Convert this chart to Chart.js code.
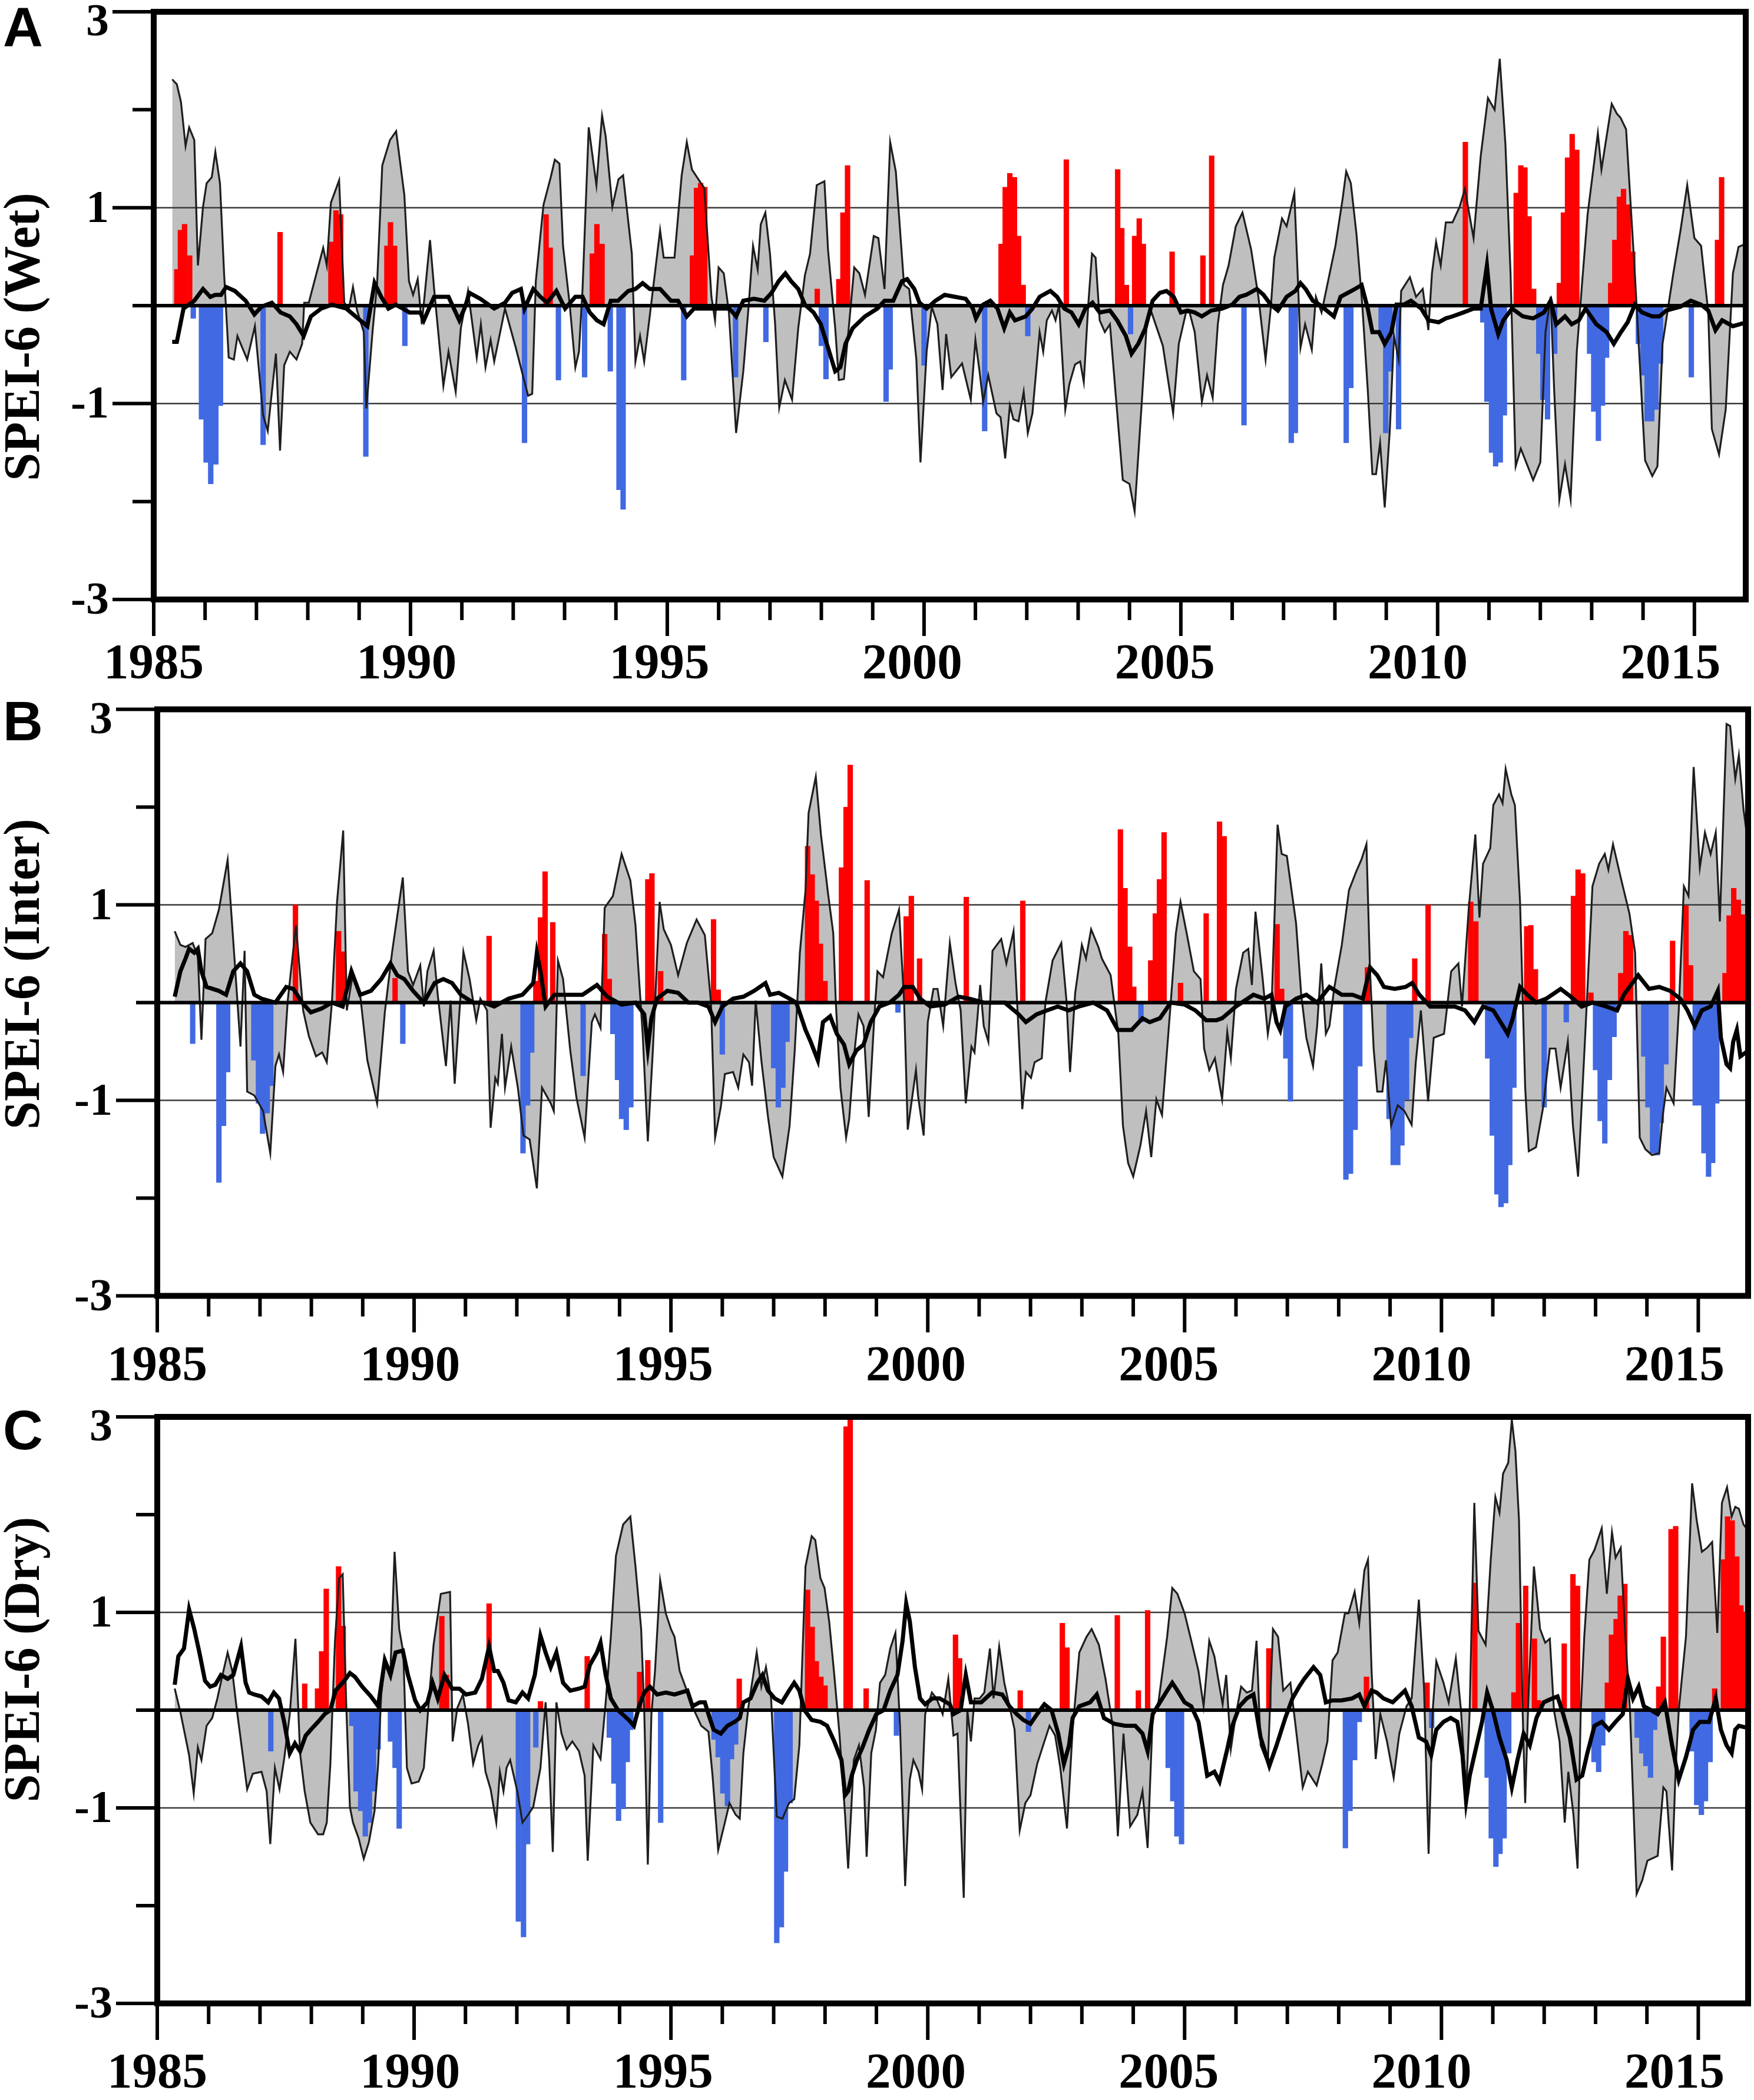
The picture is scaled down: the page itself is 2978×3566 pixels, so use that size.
<!DOCTYPE html>
<html><head><meta charset="utf-8">
<script src="https://cdn.jsdelivr.net/npm/chart.js@4.4.1/dist/chart.umd.min.js"></script>
<style>
html,body{margin:0;padding:0;background:#fff;width:2978px;height:3566px;overflow:hidden}
.panel{position:absolute;left:0;width:2978px}
.letter{position:absolute;font-family:"Liberation Sans",Arial,sans-serif;font-weight:bold;font-size:94px;line-height:1;color:#000}
</style></head><body>
<div class="panel" style="top:0px"><canvas id="cA" width="2978" height="1190"></canvas></div>
<div class="panel" style="top:1190px"><canvas id="cB" width="2978" height="1195"></canvas></div>
<div class="panel" style="top:2385px"><canvas id="cC" width="2978" height="1181"></canvas></div>
<div class="letter" style="left:5px;top:0px">A</div>
<div class="letter" style="left:5px;top:1178px">B</div>
<div class="letter" style="left:5px;top:2382px">C</div>
<script>
// ---------- axis / label data ----------
const xMin = 1985;
const yearTicks = [1985, 1990, 1995, 2000, 2005, 2010, 2015];
const yTickLabels = [3, 1, -1, -3];
const panelTitles = ['SPEI-6 (Wet)', 'SPEI-6 (Inter)', 'SPEI-6 (Dry)'];

// ---------- Panel A (Wet) ----------
const wetLine = [[1985.36,2.31],[1985.45,2.26],[1985.53,2.08],[1985.62,1.63],[1985.69,1.82],[1985.79,1.69],[1985.86,0.41],[1985.96,1.01],[1986.03,1.25],[1986.13,1.31],[1986.2,1.57],[1986.29,1.25],[1986.37,0.33],[1986.46,-0.53],[1986.56,-0.55],[1986.63,-0.31],[1986.82,-0.55],[1986.97,-0.21],[1987.13,-1.12],[1987.22,-1.28],[1987.38,-0.49],[1987.46,-1.48],[1987.54,-0.61],[1987.65,-0.47],[1987.78,-0.55],[1987.89,-0.39],[1987.93,0.03],[1988.02,0.03],[1988.3,0.59],[1988.37,0.41],[1988.45,1.05],[1988.61,1.28],[1988.71,0.03],[1988.8,-0.03],[1988.88,0.19],[1988.96,-0.05],[1989.09,-0.27],[1989.14,-1.05],[1989.26,-0.27],[1989.35,0.23],[1989.45,1.43],[1989.6,1.69],[1989.72,1.78],[1989.88,1.13],[1989.97,0.25],[1990.05,0.11],[1990.14,0.27],[1990.22,-0.19],[1990.38,0.67],[1990.46,0.17],[1990.64,-0.82],[1990.74,-0.47],[1990.88,-0.88],[1990.98,-0.23],[1991.12,0.15],[1991.29,-0.53],[1991.37,-0.19],[1991.46,-0.63],[1991.56,-0.35],[1991.63,-0.57],[1991.84,-0.03],[1992.05,-0.43],[1992.29,-0.92],[1992.37,-0.9],[1992.44,0.25],[1992.59,1.03],[1992.73,1.31],[1992.81,1.49],[1992.9,1.45],[1992.97,0.61],[1993.1,0.01],[1993.21,-0.63],[1993.28,-0.47],[1993.35,0.17],[1993.47,1.82],[1993.62,1.23],[1993.73,1.94],[1993.8,1.73],[1993.93,1.01],[1994.05,1.29],[1994.14,1.33],[1994.31,0.53],[1994.38,-0.57],[1994.47,-0.31],[1994.55,-0.57],[1994.66,-0.1],[1994.86,0.77],[1994.93,0.49],[1995.14,0.49],[1995.28,1.33],[1995.38,1.67],[1995.48,1.39],[1995.58,1.31],[1995.72,1.2],[1995.86,0.09],[1995.93,-0.15],[1996.0,0.39],[1996.1,0.33],[1996.2,-0.07],[1996.34,-1.3],[1996.48,-0.67],[1996.58,-0.03],[1996.67,0.61],[1996.76,0.37],[1996.82,0.83],[1996.91,0.95],[1997.0,0.53],[1997.1,-0.19],[1997.18,-1.04],[1997.29,-0.76],[1997.43,-0.96],[1997.55,-0.23],[1997.68,0.31],[1997.78,0.53],[1997.91,1.23],[1998.06,1.27],[1998.13,0.57],[1998.27,-0.23],[1998.34,-0.76],[1998.44,-0.75],[1998.54,-0.19],[1998.64,0.39],[1998.74,0.33],[1998.85,0.11],[1999.02,0.71],[1999.11,0.69],[1999.23,0.17],[1999.34,1.67],[1999.45,1.37],[1999.61,0.21],[1999.71,0.17],[1999.85,-0.55],[1999.93,-1.6],[2000.05,-0.47],[2000.15,-0.01],[2000.26,-0.19],[2000.36,-0.86],[2000.43,-0.29],[2000.53,-0.73],[2000.74,-0.59],[2000.91,-0.96],[2001.0,-0.35],[2001.08,-0.67],[2001.15,-0.98],[2001.25,-0.71],[2001.41,-1.1],[2001.49,-1.14],[2001.58,-1.56],[2001.67,-1.02],[2001.74,-1.16],[2001.84,-1.18],[2001.94,-0.88],[2002.02,-1.3],[2002.11,-1.1],[2002.25,-0.27],[2002.32,-0.47],[2002.39,-0.15],[2002.49,-0.05],[2002.56,-0.15],[2002.63,0.01],[2002.75,-1.06],[2002.83,-0.8],[2002.94,-0.6],[2003.04,-0.57],[2003.11,-0.78],[2003.2,0.03],[2003.27,0.53],[2003.34,0.49],[2003.42,-0.15],[2003.52,-0.27],[2003.62,-0.19],[2003.73,-0.9],[2003.87,-1.78],[2004.0,-1.82],[2004.1,-2.1],[2004.24,-0.98],[2004.34,-0.15],[2004.43,-0.07],[2004.65,-0.41],[2004.85,-1.1],[2004.96,-0.39],[2005.1,-0.07],[2005.17,-0.07],[2005.27,-0.27],[2005.41,-0.98],[2005.51,-0.71],[2005.62,-0.94],[2005.72,-0.19],[2005.82,0.21],[2005.93,0.41],[2006.07,0.81],[2006.2,0.95],[2006.37,0.57],[2006.51,0.09],[2006.65,-0.55],[2006.75,-0.03],[2006.82,0.49],[2006.97,0.89],[2007.06,0.81],[2007.21,1.15],[2007.28,0.25],[2007.33,-0.43],[2007.42,-0.19],[2007.55,-0.45],[2007.63,0.09],[2007.74,-0.07],[2008.01,0.61],[2008.15,1.09],[2008.22,1.37],[2008.31,1.25],[2008.42,0.73],[2008.53,0.03],[2008.64,-0.86],[2008.73,-1.72],[2008.8,-1.72],[2008.88,-1.4],[2008.97,-2.06],[2009.07,-1.26],[2009.15,-0.31],[2009.24,-0.55],[2009.29,0.15],[2009.46,0.29],[2009.58,0.09],[2009.71,0.17],[2009.82,-0.25],[2009.89,0.33],[2009.97,0.65],[2010.06,0.41],[2010.16,0.85],[2010.29,0.85],[2010.43,1.01],[2010.53,1.19],[2010.7,0.69],[2010.84,1.53],[2010.98,2.12],[2011.11,2.0],[2011.21,2.52],[2011.32,1.65],[2011.42,0.33],[2011.52,-1.64],[2011.62,-1.46],[2011.86,-1.78],[2012.0,-1.6],[2012.1,-0.27],[2012.2,0.09],[2012.27,-0.87],[2012.37,-1.98],[2012.48,-1.62],[2012.59,-1.98],[2012.71,-0.47],[2012.81,0.21],[2012.92,0.93],[2013.12,1.76],[2013.19,1.39],[2013.39,2.06],[2013.49,1.96],[2013.56,1.92],[2013.67,1.8],[2013.84,0.33],[2014.04,-1.58],[2014.18,-1.74],[2014.28,-1.64],[2014.38,-0.39],[2014.59,0.33],[2014.73,0.77],[2014.86,1.23],[2015.0,0.69],[2015.13,0.61],[2015.27,-0.07],[2015.34,-1.26],[2015.48,-1.52],[2015.61,-1.06],[2015.75,0.33],[2015.86,0.6],[2015.95,0.62]];
const wetThick = [[1985.36,-0.37],[1985.45,-0.37],[1985.58,-0.03],[1985.79,0.05],[1985.96,0.17],[1986.1,0.09],[1986.2,0.11],[1986.31,0.11],[1986.41,0.19],[1986.58,0.15],[1986.79,0.05],[1986.96,-0.09],[1987.1,-0.01],[1987.3,0.03],[1987.47,-0.07],[1987.65,-0.11],[1987.78,-0.19],[1987.92,-0.31],[1988.06,-0.11],[1988.26,-0.03],[1988.47,0.01],[1988.75,-0.03],[1989.02,-0.15],[1989.16,-0.21],[1989.3,0.23],[1989.43,0.09],[1989.57,-0.03],[1989.71,0.01],[1989.85,-0.03],[1989.98,-0.07],[1990.19,-0.07],[1990.26,-0.15],[1990.46,0.09],[1990.74,0.09],[1990.95,-0.15],[1991.05,-0.03],[1991.15,0.13],[1991.36,0.07],[1991.63,-0.03],[1991.84,0.03],[1991.98,0.13],[1992.15,0.17],[1992.22,-0.03],[1992.39,0.17],[1992.53,0.09],[1992.66,0.03],[1992.84,0.15],[1993.01,-0.03],[1993.21,0.09],[1993.35,0.09],[1993.49,-0.07],[1993.63,-0.15],[1993.76,-0.19],[1993.9,0.05],[1994.04,0.05],[1994.24,0.15],[1994.38,0.17],[1994.52,0.23],[1994.66,0.17],[1994.86,0.17],[1995.07,0.05],[1995.21,0.05],[1995.38,-0.11],[1995.52,-0.03],[1995.79,-0.03],[1996.0,-0.03],[1996.21,-0.03],[1996.34,-0.11],[1996.48,0.05],[1996.69,0.07],[1996.89,0.05],[1997.03,0.13],[1997.17,0.25],[1997.3,0.33],[1997.41,0.25],[1997.55,0.17],[1997.68,0.01],[1997.85,-0.07],[1997.99,-0.19],[1998.13,-0.43],[1998.27,-0.67],[1998.37,-0.63],[1998.47,-0.39],[1998.61,-0.23],[1998.85,-0.11],[1999.09,-0.03],[1999.23,0.05],[1999.4,0.05],[1999.57,0.25],[1999.67,0.27],[1999.81,0.17],[1999.91,0.03],[2000.05,-0.03],[2000.22,0.05],[2000.4,0.11],[2000.6,0.09],[2000.81,0.07],[2000.95,-0.03],[2001.01,-0.13],[2001.15,0.01],[2001.29,0.05],[2001.43,-0.03],[2001.56,-0.23],[2001.67,-0.07],[2001.77,-0.15],[2001.98,-0.11],[2002.11,-0.03],[2002.25,0.09],[2002.46,0.15],[2002.59,0.09],[2002.73,-0.03],[2002.87,-0.07],[2003.01,-0.19],[2003.14,-0.03],[2003.28,0.03],[2003.42,-0.07],[2003.62,-0.05],[2003.76,-0.15],[2003.93,-0.31],[2004.04,-0.49],[2004.17,-0.39],[2004.31,-0.23],[2004.45,0.05],[2004.59,0.13],[2004.72,0.15],[2004.86,0.09],[2005.0,-0.07],[2005.13,-0.05],[2005.27,-0.07],[2005.41,-0.11],[2005.59,-0.05],[2005.8,-0.03],[2006.0,0.01],[2006.14,0.09],[2006.27,0.11],[2006.48,0.17],[2006.61,0.11],[2006.75,0.01],[2006.89,-0.05],[2007.06,0.09],[2007.23,0.15],[2007.33,0.23],[2007.43,0.17],[2007.57,0.05],[2007.7,0.01],[2007.98,-0.11],[2008.11,0.09],[2008.25,0.13],[2008.39,0.17],[2008.52,0.21],[2008.64,-0.03],[2008.73,-0.27],[2008.86,-0.27],[2008.97,-0.39],[2009.1,-0.27],[2009.2,0.01],[2009.34,0.01],[2009.48,0.05],[2009.68,-0.03],[2009.82,-0.15],[2010.02,-0.17],[2010.16,-0.13],[2010.29,-0.11],[2010.5,-0.07],[2010.7,-0.03],[2010.84,-0.03],[2010.96,0.41],[2011.04,-0.03],[2011.18,-0.29],[2011.28,-0.15],[2011.45,-0.03],[2011.66,-0.11],[2011.86,-0.13],[2012.07,-0.07],[2012.2,0.05],[2012.31,-0.19],[2012.48,-0.11],[2012.61,-0.19],[2012.75,-0.15],[2012.88,-0.03],[2013.09,-0.19],[2013.29,-0.27],[2013.43,-0.39],[2013.57,-0.27],[2013.7,-0.17],[2013.84,0.01],[2013.98,-0.07],[2014.18,-0.11],[2014.32,-0.11],[2014.45,-0.05],[2014.73,-0.01],[2014.93,0.05],[2015.13,0.01],[2015.27,-0.05],[2015.41,-0.25],[2015.54,-0.15],[2015.75,-0.21],[2015.95,-0.18]];
const wetBars = [[1985.45,0.37],[1985.52,0.77],[1985.6,0.83],[1985.7,0.51],[1985.77,-0.13],[1985.93,-1.16],[1986.02,-1.6],[1986.11,-1.82],[1986.21,-1.62],[1986.3,-1.02],[1987.13,-1.42],[1987.46,0.75],[1988.45,0.65],[1988.55,0.97],[1988.64,0.93],[1989.13,-1.54],[1989.54,0.61],[1989.61,0.85],[1989.69,0.61],[1989.89,-0.41],[1992.22,-1.4],[1992.64,0.93],[1992.72,0.59],[1992.88,-0.76],[1993.39,-0.73],[1993.54,0.53],[1993.63,0.83],[1993.73,0.63],[1993.89,-0.67],[1994.06,-1.88],[1994.14,-2.08],[1995.32,-0.76],[1995.49,0.51],[1995.57,1.2],[1995.65,1.25],[1995.73,1.21],[1996.33,-0.73],[1996.92,-0.37],[1997.92,0.17],[1998.0,-0.41],[1998.09,-0.75],[1998.34,0.27],[1998.42,0.95],[1998.51,1.43],[1999.26,-0.98],[1999.34,-0.65],[2000.0,-0.61],[2001.18,-1.28],[2001.5,0.63],[2001.58,1.21],[2001.67,1.35],[2001.76,1.31],[2001.84,0.71],[2001.93,0.21],[2002.02,-0.31],[2002.77,1.49],[2003.77,1.39],[2003.85,0.79],[2003.94,0.21],[2004.02,-0.29],[2004.1,0.71],[2004.19,0.89],[2004.27,0.63],[2004.83,0.55],[2005.43,0.51],[2005.6,1.53],[2006.23,-1.22],[2007.15,-1.4],[2007.23,-1.3],[2008.22,-1.4],[2008.31,-0.84],[2008.9,-0.31],[2008.99,-1.3],[2009.07,-0.67],[2009.24,-1.26],[2010.54,1.67],[2010.88,-0.17],[2010.96,-0.98],[2011.05,-1.5],[2011.13,-1.64],[2011.22,-1.6],[2011.3,-1.12],[2011.53,1.15],[2011.62,1.43],[2011.7,1.41],[2011.78,0.91],[2011.87,0.17],[2011.97,-0.49],[2012.05,-0.96],[2012.14,-1.16],[2012.28,-0.49],[2012.37,0.23],[2012.45,0.95],[2012.53,1.51],[2012.62,1.75],[2012.71,1.59],[2012.96,-0.49],[2013.04,-1.08],[2013.13,-1.38],[2013.21,-1.02],[2013.29,-0.53],[2013.37,0.23],[2013.45,0.67],[2013.54,1.11],[2013.62,1.19],[2013.71,1.03],[2013.8,0.55],[2013.91,-0.39],[2014.0,-0.71],[2014.08,-1.18],[2014.17,-1.18],[2014.25,-1.06],[2014.34,-0.59],[2014.94,-0.73],[2015.45,0.67],[2015.53,1.31]];

// ---------- Panel B (Inter) ----------
const interLine = [[1985.34,0.73],[1985.45,0.59],[1985.55,0.57],[1985.69,0.61],[1985.79,0.47],[1985.86,-0.38],[1985.94,0.65],[1986.07,0.71],[1986.2,0.95],[1986.37,1.46],[1986.51,0.4],[1986.62,-0.45],[1986.7,0.53],[1986.75,-0.91],[1986.89,-0.95],[1987.06,-1.11],[1987.2,-1.54],[1987.3,-0.65],[1987.37,-0.53],[1987.45,-0.71],[1987.54,0.02],[1987.7,0.79],[1987.84,-0.08],[1987.95,-0.34],[1988.09,-0.55],[1988.21,-0.51],[1988.3,-0.61],[1988.4,0],[1988.5,1.03],[1988.62,1.76],[1988.69,-0.08],[1988.81,0.3],[1988.95,0.08],[1989.09,-0.59],[1989.28,-1.03],[1989.43,-0.1],[1989.57,0.51],[1989.78,1.28],[1989.88,0.32],[1989.98,0.18],[1990.12,0.38],[1990.19,-0.04],[1990.26,0.32],[1990.38,0.53],[1990.46,0.08],[1990.62,-0.65],[1990.71,0.02],[1990.79,-0.83],[1990.96,0.52],[1991.08,0.24],[1991.21,-0.18],[1991.29,0.04],[1991.42,-0.08],[1991.49,-1.28],[1991.58,-0.77],[1991.63,-0.83],[1991.71,-0.32],[1991.77,-0.87],[1991.89,-0.45],[1992.02,-0.87],[1992.13,-1.36],[1992.25,-1.4],[1992.39,-1.9],[1992.49,-0.87],[1992.66,-1.03],[1992.72,-1.11],[1992.8,0.43],[1992.9,0.24],[1993.04,-0.49],[1993.16,-0.97],[1993.32,-1.38],[1993.46,-0.2],[1993.52,-0.12],[1993.63,-0.26],[1993.71,0.97],[1993.87,1.09],[1994.04,1.52],[1994.21,1.25],[1994.31,0.79],[1994.45,-0.32],[1994.55,-1.42],[1994.65,-0.47],[1994.78,1.03],[1994.86,0.75],[1995.0,0.59],[1995.14,0.28],[1995.31,0.61],[1995.5,0.85],[1995.66,0.69],[1995.78,0],[1995.86,-1.38],[1995.97,-1.07],[1996.05,-0.73],[1996.21,-0.71],[1996.31,-0.87],[1996.41,-0.53],[1996.52,-0.61],[1996.58,-0.85],[1996.65,0.02],[1996.76,-0.59],[1996.89,-1.17],[1997.0,-1.58],[1997.17,-1.78],[1997.31,-1.26],[1997.41,-0.49],[1997.51,0.51],[1997.62,1.15],[1997.68,1.94],[1997.82,2.31],[1997.92,1.72],[1998.06,1.11],[1998.16,0.71],[1998.21,0],[1998.3,-0.87],[1998.41,-1.38],[1998.47,-1.19],[1998.56,-0.57],[1998.65,-0.12],[1998.75,-0.24],[1998.85,-1.17],[1998.96,-0.14],[1999.02,0.32],[1999.13,0.26],[1999.23,0.53],[1999.3,0.71],[1999.44,0.95],[1999.54,0],[1999.61,-1.3],[1999.77,-0.69],[1999.81,-0.95],[1999.92,-1.36],[2000.0,-0.2],[2000.11,0.14],[2000.19,0.14],[2000.3,-0.24],[2000.43,0.61],[2000.54,0.2],[2000.64,-0.08],[2000.74,-1.03],[2000.85,-0.45],[2000.91,-0.51],[2001.02,0.18],[2001.09,-0.24],[2001.18,-0.4],[2001.26,0.53],[2001.43,0.65],[2001.53,0.4],[2001.67,0.73],[2001.74,0],[2001.84,-1.09],[2001.91,-0.71],[2002.01,-0.77],[2002.08,-0.61],[2002.22,-0.57],[2002.29,0],[2002.43,0.43],[2002.6,0.61],[2002.7,0.02],[2002.77,-0.71],[2002.87,0.1],[2003.0,0.59],[2003.08,0.45],[2003.18,0.75],[2003.32,0.57],[2003.39,0.45],[2003.56,0.28],[2003.63,0],[2003.71,-0.32],[2003.8,-1.26],[2003.9,-1.64],[2004.0,-1.78],[2004.14,-1.46],[2004.25,-1.11],[2004.35,-1.58],[2004.45,-0.99],[2004.56,-1.15],[2004.73,0],[2004.83,0.71],[2004.92,1.03],[2005.04,0.71],[2005.18,0.32],[2005.31,0.24],[2005.38,-0.47],[2005.48,-0.69],[2005.59,-0.57],[2005.73,-0.99],[2005.83,-0.3],[2005.9,-0.57],[2006.0,0.14],[2006.14,0.51],[2006.24,0.55],[2006.31,0.18],[2006.38,0.93],[2006.52,0.24],[2006.62,-0.32],[2006.69,-0.08],[2006.81,1.82],[2006.89,1.52],[2006.99,1.5],[2007.17,0.81],[2007.27,0.08],[2007.37,-0.36],[2007.5,-0.65],[2007.58,-0.24],[2007.66,0.4],[2007.75,-0.32],[2007.82,-0.24],[2007.91,0.14],[2008.06,0.59],[2008.2,1.15],[2008.34,1.34],[2008.44,1.46],[2008.54,1.62],[2008.61,0.32],[2008.68,-0.47],[2008.75,-0.91],[2008.85,-0.91],[2008.92,-0.59],[2009.02,-1.26],[2009.15,-1.05],[2009.28,-1.11],[2009.42,-1.25],[2009.5,-0.61],[2009.6,-0.08],[2009.74,-1.01],[2009.85,-0.36],[2010.05,-0.32],[2010.19,0.32],[2010.33,0.4],[2010.4,-0.04],[2010.53,0.95],[2010.66,1.72],[2010.74,0.87],[2010.81,1.42],[2010.95,1.58],[2011.01,2.02],[2011.12,2.13],[2011.19,2.04],[2011.25,2.39],[2011.36,2.13],[2011.43,2.02],[2011.53,1.03],[2011.63,-0.87],[2011.7,-1.52],[2011.84,-1.48],[2011.98,-1.07],[2012.11,-0.47],[2012.22,-0.47],[2012.32,-0.87],[2012.46,-0.4],[2012.56,-1.26],[2012.66,-1.78],[2012.8,-0.32],[2012.94,1.19],[2013.07,1.42],[2013.18,1.52],[2013.25,1.36],[2013.34,1.62],[2013.49,1.28],[2013.66,0.91],[2013.77,0.51],[2013.86,-1.38],[2013.97,-1.5],[2014.1,-1.56],[2014.24,-1.54],[2014.31,-1.15],[2014.38,-0.87],[2014.52,-1.03],[2014.62,-0.08],[2014.72,1.19],[2014.81,1.09],[2014.91,2.41],[2015.03,1.38],[2015.13,1.74],[2015.24,1.52],[2015.34,1.74],[2015.42,0.83],[2015.55,2.85],[2015.62,2.83],[2015.72,2.29],[2015.79,2.53],[2015.88,1.98],[2015.95,1.7]];
const interThick = [[1985.34,0.06],[1985.45,0.32],[1985.55,0.45],[1985.62,0.55],[1985.72,0.51],[1985.79,0.55],[1985.86,0.32],[1985.96,0.16],[1986.2,0.12],[1986.34,0.08],[1986.48,0.32],[1986.62,0.4],[1986.75,0.32],[1986.89,0.08],[1987.03,0.04],[1987.3,0],[1987.51,0.16],[1987.65,0.14],[1987.82,0],[1987.99,-0.1],[1988.2,-0.06],[1988.4,0],[1988.61,-0.04],[1988.78,0.32],[1988.95,0.08],[1989.16,0.12],[1989.36,0.24],[1989.54,0.4],[1989.67,0.28],[1989.81,0.24],[1989.98,0.12],[1990.19,0],[1990.4,0.2],[1990.57,0.24],[1990.74,0.2],[1990.91,0.08],[1991.15,0],[1991.36,0],[1991.56,-0.04],[1991.84,0.04],[1992.11,0.08],[1992.32,0.2],[1992.39,0.51],[1992.46,0.32],[1992.56,-0.04],[1992.73,0.08],[1992.94,0.08],[1993.28,0.08],[1993.56,0.18],[1993.76,0.06],[1994.04,-0.02],[1994.31,0],[1994.48,-0.12],[1994.55,-0.47],[1994.62,-0.16],[1994.73,0.04],[1994.93,0.12],[1995.14,0.1],[1995.34,0],[1995.52,0],[1995.73,-0.04],[1995.86,-0.2],[1996.0,-0.04],[1996.21,0.04],[1996.41,0.06],[1996.62,0.12],[1996.84,0.2],[1996.93,0.08],[1997.1,0.1],[1997.31,0.04],[1997.44,0],[1997.62,-0.28],[1997.72,-0.4],[1997.86,-0.59],[1997.96,-0.2],[1998.1,-0.14],[1998.23,-0.32],[1998.37,-0.43],[1998.47,-0.63],[1998.61,-0.49],[1998.75,-0.43],[1998.89,-0.2],[1999.06,-0.04],[1999.26,0],[1999.44,0.08],[1999.54,0.16],[1999.71,0.16],[1999.85,0.04],[2000.05,-0.04],[2000.33,-0.02],[2000.6,0.06],[2000.81,0.04],[2001.09,0],[2001.5,0],[2001.77,-0.12],[2001.91,-0.2],[2002.12,-0.12],[2002.32,-0.08],[2002.53,-0.04],[2002.74,-0.08],[2002.94,-0.04],[2003.22,0],[2003.49,-0.08],[2003.7,-0.28],[2003.97,-0.28],[2004.18,-0.16],[2004.32,-0.2],[2004.52,-0.16],[2004.73,0],[2005.0,-0.02],[2005.21,-0.08],[2005.42,-0.18],[2005.62,-0.18],[2005.73,-0.16],[2006.0,-0.04],[2006.34,0.08],[2006.55,0.04],[2006.69,0.08],[2006.79,-0.2],[2006.86,-0.28],[2006.96,-0.04],[2007.17,0.04],[2007.37,0.08],[2007.58,0],[2007.82,0.16],[2008.06,0.08],[2008.27,0.08],[2008.47,0.04],[2008.61,0.36],[2008.75,0.28],[2008.88,0.16],[2009.09,0.14],[2009.3,0.16],[2009.43,0.2],[2009.57,0.08],[2009.78,-0.04],[2009.98,-0.04],[2010.26,-0.04],[2010.46,-0.08],[2010.64,-0.2],[2010.81,-0.04],[2011.01,-0.08],[2011.15,-0.2],[2011.29,-0.32],[2011.39,-0.16],[2011.53,0.16],[2011.67,0.08],[2011.84,0],[2012.04,0.04],[2012.32,0.14],[2012.52,0.06],[2012.73,-0.04],[2012.94,0],[2013.21,-0.04],[2013.42,-0.08],[2013.55,0.08],[2013.83,0.28],[2014.04,0.14],[2014.24,0.16],[2014.45,0.12],[2014.65,0.04],[2014.79,-0.08],[2014.93,-0.24],[2015.07,-0.08],[2015.24,-0.04],[2015.38,0.12],[2015.44,-0.36],[2015.55,-0.63],[2015.62,-0.67],[2015.68,-0.4],[2015.75,-0.28],[2015.82,-0.55],[2015.95,-0.5]];
const interBars = [[1985.69,-0.42],[1986.2,-1.84],[1986.29,-1.26],[1986.37,-0.71],[1986.88,-0.59],[1986.97,-1.03],[1987.05,-1.34],[1987.14,-1.13],[1987.21,-0.85],[1987.69,1.0],[1988.53,0.73],[1988.62,0.52],[1989.63,0.25],[1989.78,-0.42],[1991.46,0.68],[1992.12,-1.54],[1992.21,-1.05],[1992.29,-0.51],[1992.37,0.22],[1992.46,0.87],[1992.55,1.34],[1992.7,0.82],[1993.29,-0.75],[1993.71,0.7],[1993.8,0.24],[1993.87,-0.32],[1993.96,-0.79],[1994.04,-1.19],[1994.13,-1.3],[1994.22,-1.07],[1994.55,1.26],[1994.63,1.32],[1994.8,0.32],[1995.83,0.85],[1995.92,0.13],[1996.0,-0.53],[1997.0,-0.67],[1997.09,-1.07],[1997.18,-0.87],[1997.26,-0.4],[1997.66,1.6],[1997.75,1.31],[1997.83,1.04],[1997.91,0.6],[1998.0,0.22],[1998.32,1.38],[1998.41,2.0],[1998.49,2.43],[1998.82,1.25],[1999.42,-0.1],[1999.58,0.88],[1999.68,1.09],[1999.84,0.45],[2000.75,1.08],[2001.85,1.04],[2003.75,1.77],[2003.84,1.17],[2003.93,0.57],[2004.01,0.16],[2004.15,-0.2],[2004.34,0.43],[2004.43,0.91],[2004.51,1.26],[2004.6,1.74],[2004.92,0.2],[2005.42,0.91],[2005.68,1.85],[2005.77,1.7],[2006.8,0.8],[2006.89,0.14],[2006.97,-0.57],[2007.06,-1.01],[2008.14,-1.81],[2008.23,-1.75],[2008.32,-1.3],[2008.41,-0.65],[2008.56,0.36],[2008.98,-1.19],[2009.06,-1.66],[2009.15,-1.66],[2009.23,-1.46],[2009.32,-0.99],[2009.4,-0.36],[2009.48,0.45],[2009.74,1.0],[2010.57,1.03],[2010.67,0.83],[2010.9,-0.57],[2010.99,-1.36],[2011.08,-1.96],[2011.16,-2.09],[2011.25,-2.05],[2011.33,-1.66],[2011.41,-0.87],[2011.66,0.78],[2011.74,0.79],[2011.83,0.34],[2012.0,-1.07],[2012.43,-0.2],[2012.57,1.09],[2012.66,1.36],[2012.75,1.32],[2012.91,0.1],[2013.0,-0.69],[2013.09,-1.21],[2013.18,-1.44],[2013.27,-0.79],[2013.36,-0.35],[2013.49,0.3],[2013.59,0.73],[2013.68,0.69],[2013.94,-0.55],[2014.02,-1.07],[2014.11,-1.54],[2014.2,-1.56],[2014.28,-1.23],[2014.37,-0.63],[2014.5,0.63],[2014.76,0.99],[2014.85,0.38],[2014.94,-1.05],[2015.02,-1.05],[2015.11,-1.54],[2015.2,-1.78],[2015.28,-1.64],[2015.36,-1.03],[2015.52,0.3],[2015.6,0.89],[2015.69,1.17],[2015.78,1.05],[2015.87,0.9]];

// ---------- Panel C (Dry) ----------
const dryLine = [[1985.34,0.22],[1985.45,-0.02],[1985.52,-0.2],[1985.62,-0.46],[1985.71,-0.85],[1985.79,-0.38],[1985.86,-0.51],[1985.96,-0.16],[1986.07,-0.08],[1986.17,0.12],[1986.27,0.36],[1986.37,0.59],[1986.46,0.4],[1986.55,0],[1986.62,-0.28],[1986.75,-0.81],[1986.86,-0.65],[1987.03,-0.63],[1987.13,-0.83],[1987.2,-1.37],[1987.29,-0.59],[1987.38,-0.81],[1987.47,-0.5],[1987.58,-0.04],[1987.69,0.73],[1987.78,-0.44],[1987.87,-0.83],[1987.98,-1.15],[1988.13,-1.27],[1988.23,-1.27],[1988.3,-1.15],[1988.37,-0.55],[1988.46,0.71],[1988.54,1.35],[1988.61,1.39],[1988.68,0.04],[1988.75,-0.99],[1988.81,-1.15],[1988.92,-1.31],[1989.02,-1.52],[1989.12,-1.35],[1989.23,-1.03],[1989.3,-0.55],[1989.36,0.16],[1989.43,0.53],[1989.54,0.4],[1989.62,1.62],[1989.71,0.83],[1989.79,0.59],[1989.86,-0.59],[1989.95,-0.75],[1990.09,-0.73],[1990.19,-0.59],[1990.29,0.12],[1990.38,0.67],[1990.52,1.19],[1990.7,1.21],[1990.75,-0.32],[1990.84,0.02],[1990.95,0.16],[1991.05,-0.14],[1991.15,-0.55],[1991.25,-0.36],[1991.32,-0.28],[1991.39,-0.63],[1991.49,-0.81],[1991.6,-1.15],[1991.67,-0.63],[1991.74,-0.83],[1991.8,-0.59],[1991.87,-0.51],[1992.01,-0.83],[1992.11,-1.15],[1992.22,-1.07],[1992.32,-0.99],[1992.46,-0.59],[1992.56,0.08],[1992.63,-0.51],[1992.7,-1.45],[1992.77,0.08],[1992.87,-0.24],[1992.97,-0.4],[1993.08,-0.32],[1993.21,-0.42],[1993.32,-0.67],[1993.38,-1.54],[1993.49,-0.36],[1993.63,-0.5],[1993.73,0.08],[1993.83,0.75],[1993.93,1.58],[1994.07,1.9],[1994.21,1.98],[1994.31,1.47],[1994.42,0.83],[1994.48,0],[1994.55,-1.58],[1994.62,-0.04],[1994.69,0.4],[1994.79,1.33],[1994.9,0.99],[1995.0,0.83],[1995.07,0.75],[1995.17,0.4],[1995.31,0.2],[1995.45,0],[1995.59,-0.16],[1995.73,-0.22],[1995.81,-0.67],[1995.92,-1.43],[1996.05,-1.15],[1996.14,-0.95],[1996.26,-1.07],[1996.34,-1.11],[1996.41,-0.44],[1996.51,0.04],[1996.67,0.59],[1996.76,0.24],[1996.85,0.44],[1996.95,0.12],[1997.06,-1.09],[1997.17,-1.11],[1997.3,-0.95],[1997.4,-0.91],[1997.5,-0.36],[1997.62,1.47],[1997.74,1.78],[1997.81,1.74],[1997.91,1.35],[1997.99,1.25],[1998.08,0.91],[1998.18,0.36],[1998.28,-0.24],[1998.39,-1.07],[1998.45,-1.62],[1998.56,-0.51],[1998.66,-0.36],[1998.76,-0.79],[1998.81,-1.5],[1998.9,-0.44],[1998.99,-0.2],[1999.07,0.28],[1999.17,0.36],[1999.27,0.63],[1999.37,0.79],[1999.46,-0.16],[1999.56,-1.8],[1999.65,-0.71],[1999.72,-0.51],[1999.82,-0.63],[1999.89,-0.81],[1999.95,-0.04],[2000.08,0.18],[2000.17,0.12],[2000.29,-0.04],[2000.4,0.32],[2000.5,-0.26],[2000.58,-0.24],[2000.7,-1.92],[2000.77,0],[2000.84,-0.32],[2000.91,0.12],[2001.01,0.12],[2001.1,0.18],[2001.21,0.63],[2001.28,0.12],[2001.39,0.65],[2001.49,0.28],[2001.59,0.04],[2001.69,-0.2],[2001.79,-1.23],[2001.9,-0.95],[2002.0,-0.87],[2002.13,-0.55],[2002.27,-0.32],[2002.37,-0.16],[2002.48,-0.26],[2002.58,-0.59],[2002.71,-1.21],[2002.82,-0.2],[2002.95,0.59],[2003.09,0.75],[2003.19,0.83],[2003.33,0.67],[2003.46,0.32],[2003.6,-0.16],[2003.7,-1.29],[2003.81,-0.24],[2003.94,-1.19],[2004.08,-1.07],[2004.18,-0.83],[2004.28,-1.41],[2004.38,-0.04],[2004.49,0.08],[2004.66,0.75],[2004.76,1.25],[2004.86,1.19],[2005.0,0.99],[2005.13,0.71],[2005.27,0.4],[2005.37,0.04],[2005.48,0.71],[2005.58,0.55],[2005.68,0.24],[2005.74,0.06],[2005.81,0.36],[2005.9,-0.4],[2006.0,-0.04],[2006.1,0.24],[2006.21,0.18],[2006.31,0.2],[2006.4,0.71],[2006.48,-0.36],[2006.62,-0.55],[2006.72,0.83],[2006.82,0.75],[2006.92,0.2],[2007.06,0.28],[2007.16,-0.16],[2007.3,-0.79],[2007.4,-0.63],[2007.57,-0.77],[2007.68,-0.55],[2007.78,-0.32],[2007.88,0.51],[2007.98,0.59],[2008.12,0.99],[2008.19,0.99],[2008.31,1.21],[2008.4,0.89],[2008.5,1.43],[2008.57,1.54],[2008.64,0.4],[2008.72,-0.5],[2008.81,-0.04],[2008.94,-0.32],[2009.07,-0.69],[2009.18,-0.24],[2009.32,0.04],[2009.42,0.12],[2009.56,1.13],[2009.66,0.24],[2009.75,-1.47],[2009.83,0],[2009.9,0.5],[2010.04,0.28],[2010.14,0.08],[2010.28,0.53],[2010.38,0],[2010.48,-0.87],[2010.55,0],[2010.64,2.12],[2010.72,0.81],[2010.86,0.67],[2010.96,1.54],[2011.05,2.18],[2011.13,2.02],[2011.2,2.42],[2011.3,2.53],[2011.37,2.97],[2011.44,2.65],[2011.51,1.94],[2011.58,0],[2011.63,-0.95],[2011.69,0.08],[2011.8,1.47],[2011.92,0.83],[2012.02,0.69],[2012.11,0.73],[2012.19,0],[2012.3,-0.32],[2012.4,-1.15],[2012.47,-0.63],[2012.57,-1.07],[2012.65,-1.62],[2012.71,-0.04],[2012.78,0.75],[2012.88,1.54],[2012.98,1.64],[2013.12,1.86],[2013.22,1.19],[2013.32,1.82],[2013.39,1.56],[2013.49,1.66],[2013.58,0.75],[2013.67,0],[2013.8,-1.88],[2013.91,-1.74],[2014.01,-1.54],[2014.21,-1.49],[2014.32,-0.79],[2014.38,-0.83],[2014.49,-1.64],[2014.56,-0.59],[2014.62,0],[2014.76,0.75],[2014.88,2.32],[2014.97,1.94],[2015.07,1.62],[2015.17,1.66],[2015.27,1.72],[2015.37,0.79],[2015.46,2.12],[2015.56,2.28],[2015.65,1.98],[2015.72,2.08],[2015.79,2.06],[2015.88,1.9],[2015.95,1.85]];
const dryThick = [[1985.34,0.26],[1985.41,0.55],[1985.52,0.63],[1985.62,1.03],[1985.72,0.83],[1985.82,0.59],[1985.93,0.3],[1986.03,0.24],[1986.13,0.26],[1986.24,0.36],[1986.37,0.32],[1986.48,0.36],[1986.63,0.65],[1986.72,0.28],[1986.79,0.18],[1986.89,0.16],[1987.03,0.14],[1987.16,0.08],[1987.27,0.18],[1987.37,0.12],[1987.47,-0.12],[1987.58,-0.44],[1987.68,-0.34],[1987.78,-0.42],[1987.89,-0.26],[1987.99,-0.2],[1988.13,-0.12],[1988.26,-0.04],[1988.37,0],[1988.47,0.2],[1988.64,0.3],[1988.75,0.38],[1988.85,0.34],[1988.99,0.24],[1989.16,0.14],[1989.3,0.04],[1989.43,0.51],[1989.54,0.36],[1989.64,0.59],[1989.78,0.61],[1989.88,0.36],[1990.02,0.1],[1990.12,0],[1990.26,0.08],[1990.36,0.28],[1990.46,0.12],[1990.59,0.36],[1990.74,0.22],[1990.88,0.22],[1991.01,0.16],[1991.19,0.18],[1991.32,0.32],[1991.46,0.65],[1991.56,0.4],[1991.63,0.4],[1991.74,0.28],[1991.84,0.1],[1991.98,0.08],[1992.11,0.18],[1992.22,0.12],[1992.35,0.36],[1992.46,0.76],[1992.56,0.59],[1992.66,0.44],[1992.77,0.59],[1992.9,0.28],[1993.04,0.2],[1993.21,0.22],[1993.32,0.24],[1993.42,0.46],[1993.56,0.59],[1993.63,0.69],[1993.73,0.36],[1993.83,0.12],[1993.97,0],[1994.18,-0.1],[1994.28,-0.16],[1994.38,0.04],[1994.48,0.18],[1994.59,0.24],[1994.73,0.16],[1994.9,0.18],[1995.07,0.16],[1995.32,0.2],[1995.42,0.04],[1995.56,0.08],[1995.66,0.08],[1995.73,-0.04],[1995.83,-0.2],[1995.97,-0.24],[1996.1,-0.16],[1996.24,-0.12],[1996.34,-0.08],[1996.41,0.08],[1996.55,0.12],[1996.68,0.28],[1996.78,0.36],[1996.89,0.2],[1997.02,0.12],[1997.16,0.08],[1997.3,0.2],[1997.4,0.28],[1997.5,0.2],[1997.6,0],[1997.74,-0.1],[1997.91,-0.12],[1998.04,-0.16],[1998.18,-0.32],[1998.32,-0.51],[1998.39,-0.87],[1998.45,-0.83],[1998.52,-0.67],[1998.62,-0.51],[1998.73,-0.38],[1998.86,-0.2],[1999.0,-0.04],[1999.14,0],[1999.27,0.2],[1999.41,0.36],[1999.51,0.71],[1999.58,1.09],[1999.65,0.91],[1999.75,0.44],[1999.85,0.12],[1999.95,0.06],[2000.09,0.12],[2000.23,0.12],[2000.43,0.06],[2000.5,-0.04],[2000.64,0],[2000.74,0.36],[2000.84,0.08],[2001.04,0.08],[2001.25,0.18],[2001.45,0.16],[2001.59,0.04],[2001.73,-0.04],[2001.86,-0.1],[2002.0,-0.14],[2002.13,-0.04],[2002.27,0.06],[2002.41,0],[2002.54,-0.24],[2002.65,-0.55],[2002.75,-0.36],[2002.82,-0.08],[2002.95,0.04],[2003.16,0.08],[2003.29,0.16],[2003.43,-0.08],[2003.63,-0.14],[2003.84,-0.16],[2004.04,-0.16],[2004.18,-0.24],[2004.28,-0.42],[2004.38,-0.04],[2004.52,0.08],[2004.66,0.2],[2004.76,0.28],[2004.86,0.2],[2005.0,0.08],[2005.13,0.04],[2005.27,-0.12],[2005.37,-0.44],[2005.44,-0.67],[2005.58,-0.63],[2005.68,-0.73],[2005.83,-0.4],[2005.93,-0.16],[2006.07,0.04],[2006.21,0.12],[2006.34,0.16],[2006.48,-0.28],[2006.65,-0.57],[2006.79,-0.36],[2006.96,-0.08],[2007.1,0.12],[2007.23,0.24],[2007.33,0.32],[2007.51,0.44],[2007.64,0.36],[2007.75,0.08],[2007.88,0.1],[2008.05,0.1],[2008.26,0.12],[2008.4,0.16],[2008.5,0.04],[2008.64,0.2],[2008.74,0.18],[2008.87,0.12],[2009.05,0.08],[2009.29,0.2],[2009.42,0.04],[2009.56,-0.28],[2009.7,-0.32],[2009.8,-0.46],[2009.9,-0.2],[2010.04,-0.12],[2010.18,-0.08],[2010.31,-0.12],[2010.41,-0.46],[2010.48,-0.93],[2010.55,-0.67],[2010.65,-0.44],[2010.79,-0.12],[2010.89,0.18],[2011.0,0],[2011.13,-0.28],[2011.27,-0.51],[2011.37,-0.79],[2011.48,-0.51],[2011.6,-0.24],[2011.72,-0.36],[2011.85,-0.08],[2011.99,0.08],[2012.16,0.12],[2012.26,0.14],[2012.37,-0.04],[2012.5,-0.28],[2012.63,-0.71],[2012.74,-0.67],[2012.84,-0.44],[2012.98,-0.16],[2013.12,-0.12],[2013.26,-0.2],[2013.39,-0.12],[2013.53,-0.04],[2013.63,0.32],[2013.73,0.12],[2013.84,0.24],[2013.94,0.04],[2014.08,0],[2014.21,-0.04],[2014.35,0.08],[2014.49,-0.36],[2014.62,-0.71],[2014.76,-0.48],[2014.9,-0.2],[2015.03,-0.12],[2015.21,-0.12],[2015.34,0.12],[2015.44,-0.2],[2015.55,-0.36],[2015.65,-0.44],[2015.72,-0.2],[2015.79,-0.16],[2015.95,-0.18]];
const dryBars = [[1987.21,-0.42],[1987.87,0.27],[1988.12,0.22],[1988.2,0.6],[1988.29,1.24],[1988.53,1.47],[1988.62,0.86],[1988.79,-0.16],[1988.87,-0.83],[1988.96,-1.03],[1989.05,-1.29],[1989.13,-1.15],[1989.21,-0.83],[1989.3,-0.4],[1989.54,-0.32],[1989.63,-0.59],[1989.71,-1.21],[1990.54,0.96],[1990.63,0.36],[1991.46,1.09],[1992.03,-2.16],[1992.13,-2.32],[1992.21,-1.37],[1992.37,-0.38],[1992.46,0.09],[1993.37,0.55],[1993.8,-0.28],[1993.89,-0.75],[1993.98,-1.13],[1994.07,-1.01],[1994.15,-0.53],[1994.22,-0.2],[1994.39,0.39],[1994.55,0.51],[1994.8,-1.15],[1995.84,-0.3],[1995.92,-0.48],[1996.01,-0.85],[1996.1,-0.98],[1996.18,-0.5],[1996.26,-0.35],[1996.33,0.32],[1997.06,-2.38],[1997.15,-2.22],[1997.23,-1.65],[1997.32,-0.95],[1997.66,1.23],[1997.75,0.85],[1997.83,0.5],[1997.92,0.34],[1998.0,0.25],[1998.41,2.9],[1998.49,3.0],[1998.8,0.22],[1999.39,-0.26],[2000.54,0.77],[2000.62,0.53],[2001.8,0.2],[2001.96,-0.22],[2002.62,0.89],[2002.71,0.64],[2003.69,0.97],[2004.1,0.2],[2004.28,1.02],[2004.68,-0.59],[2004.77,-0.93],[2004.85,-1.29],[2004.94,-1.37],[2006.64,0.63],[2008.13,-1.41],[2008.22,-1.03],[2008.31,-0.51],[2008.4,-0.12],[2008.54,0.34],[2009.72,0.28],[2009.81,-0.18],[2010.65,1.3],[2010.89,-0.69],[2010.97,-1.31],[2011.06,-1.6],[2011.14,-1.47],[2011.22,-1.31],[2011.31,-0.44],[2011.41,0.18],[2011.5,0.89],[2011.64,1.27],[2011.81,0.73],[2011.89,0.1],[2012.39,0.68],[2012.56,1.39],[2012.65,1.27],[2012.97,-0.53],[2013.06,-0.63],[2013.14,-0.36],[2013.23,0.28],[2013.31,0.77],[2013.4,0.93],[2013.48,1.17],[2013.57,1.29],[2013.81,-0.28],[2013.9,-0.44],[2013.98,-0.57],[2014.07,-0.69],[2014.15,-0.2],[2014.23,0.24],[2014.32,0.75],[2014.47,1.85],[2014.56,1.88],[2014.88,-0.42],[2014.97,-0.97],[2015.06,-1.07],[2015.14,-0.93],[2015.23,-0.53],[2015.32,0.22],[2015.49,1.54],[2015.57,1.98],[2015.66,1.94],[2015.75,1.57],[2015.83,1.07],[2015.91,1.0]];

// ---------- drawing ----------
const serif = '"Liberation Serif", "Times New Roman", serif';
const pts = a => a.map(p => ({x: p[0], y: p[1]}));

function decoPlugin(L, title) {
  return {
    id: 'deco',
    beforeDatasetDraw(chart, args) {
      if (args.meta.type !== 'bar') return;
      const {ctx, chartArea: a, scales: {y}} = chart;
      ctx.save();
      ctx.strokeStyle = '#3a3a3a'; ctx.lineWidth = 2.5;
      [1, -1].forEach(v => {
        const py = y.getPixelForValue(v);
        ctx.beginPath(); ctx.moveTo(a.left, py); ctx.lineTo(a.right, py); ctx.stroke();
      });
      ctx.restore();
    },
    afterDatasetsDraw(chart) {
      const {ctx, chartArea: a, scales: {y}} = chart;
      const py = y.getPixelForValue(0);
      ctx.save();
      ctx.strokeStyle = '#000'; ctx.lineWidth = 6;
      ctx.beginPath(); ctx.moveTo(a.left, py); ctx.lineTo(a.right, py); ctx.stroke();
      ctx.restore();
    },
    afterDraw(chart) {
      const {ctx, chartArea: a, scales: {x, y}} = chart;
      ctx.save();
      ctx.strokeStyle = '#000'; ctx.fillStyle = '#000'; ctx.lineCap = 'butt';
      const seg = (x1, y1, x2, y2) => { ctx.beginPath(); ctx.moveTo(x1, y1); ctx.lineTo(x2, y2); ctx.stroke(); };
      ctx.lineWidth = 6;
      for (let v = -3; v <= 3; v++) {
        const py = y.getPixelForValue(v);
        const len = Math.abs(v) % 2 === 1 ? 70 : 36;
        seg(a.left - len, py, a.left, py);
      }
      for (let yr = 1985; yr <= 2015; yr++) {
        const px = x.getPixelForValue(yr);
        const len = yr % 5 === 0 ? 62 : 35;
        seg(px, a.bottom, px, a.bottom + len);
      }
      ctx.lineWidth = 10;
      ctx.strokeRect(a.left, a.top, a.right - a.left, a.bottom - a.top);
      ctx.font = 'bold 78px ' + serif; ctx.textAlign = 'right'; ctx.textBaseline = 'middle';
      yTickLabels.forEach(v => ctx.fillText(String(v), a.left - 76, y.getPixelForValue(v) + (v === 3 ? 20 : 4)));
      ctx.font = 'bold 85px ' + serif; ctx.textAlign = 'center';
      yearTicks.forEach(yr => ctx.fillText(String(yr), x.getPixelForValue(yr) - 1.35 * (yr - 1985), a.bottom + L.labelDy));
      ctx.font = 'bold 86px ' + serif;
      ctx.translate(44, L.titleY); ctx.rotate(-Math.PI / 2);
      ctx.fillText(title, 0, 0);
      ctx.restore();
    }
  };
}

function makePanel(id, line, thick, bars, title, L) {
  new Chart(document.getElementById(id), {
    type: 'line',
    data: {
      datasets: [
        {type: 'line', data: pts(thick), borderColor: '#000', borderWidth: 7, pointRadius: 0, tension: 0, fill: false, order: 1},
        {type: 'line', data: pts(line), borderColor: '#1e1e1e', borderWidth: 3.2, pointRadius: 0, tension: 0, fill: false, order: 2},
        {type: 'bar', data: pts(bars), backgroundColor: c => (c.raw && c.raw.y >= 0) ? '#ff0000' : '#4169e1',
         borderWidth: 0, barThickness: 8.5, grouped: false, order: 3},
        {type: 'line', data: pts(line), borderWidth: 0, borderColor: 'rgba(0,0,0,0)', backgroundColor: '#bfbfbf',
         pointRadius: 0, tension: 0, fill: 'origin', order: 4}
      ]
    },
    options: {
      responsive: false, animation: false, devicePixelRatio: 1,
      layout: {padding: L.pad},
      plugins: {legend: {display: false}, tooltip: {enabled: false}},
      scales: {
        x: {type: 'linear', min: xMin, max: L.xMax, offset: false, display: false, grid: {offset: false}},
        y: {type: 'linear', min: -3, max: 3, display: false}
      }
    },
    plugins: [decoPlugin(L, title)]
  });
}

makePanel('cA', wetLine, wetThick, wetBars, panelTitles[0],
  {pad: {left: 261, right: 14, top: 20, bottom: 172}, xMax: 2016.0, titleY: 572, labelDy: 112});
makePanel('cB', interLine, interThick, interBars, panelTitles[1],
  {pad: {left: 267, right: 10, top: 14.5, bottom: 184.5}, xMax: 2015.97, titleY: 464, labelDy: 122});
makePanel('cC', dryLine, dryThick, dryBars, panelTitles[2],
  {pad: {left: 267, right: 10, top: 21, bottom: 164}, xMax: 2015.97, titleY: 433, labelDy: 121});
</script>
</body></html>
